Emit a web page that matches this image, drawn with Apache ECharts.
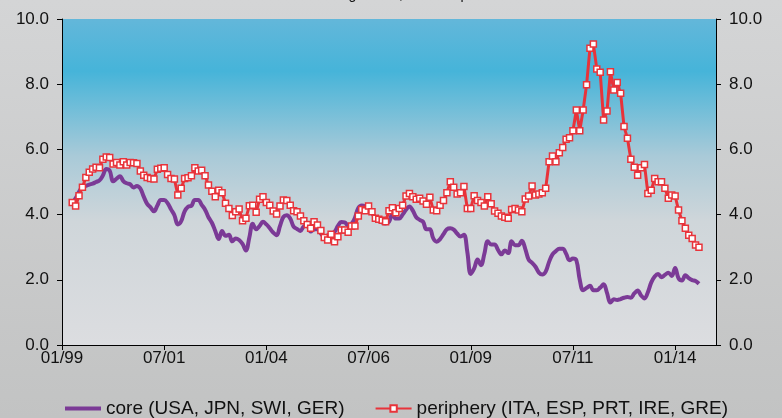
<!DOCTYPE html>
<html>
<head>
<meta charset="utf-8">
<script src="https://cdn.jsdelivr.net/npm/echarts@6/dist/echarts.min.js"></script>
<style>
html,body{margin:0;padding:0;}
body{width:782px;height:418px;background:linear-gradient(to bottom,#d4d5d6,#c2c3c3);overflow:hidden;}
#chart{width:782px;height:418px;}
</style>
</head>
<body>
<div id="chart"></div>
<script>
// Monthly categories 01/99 .. 01/15
var categories = [];
for (var y = 1999; y <= 2015; y++) {
  for (var m = 1; m <= 12; m++) {
    if (y === 2015 && m > 1) break;
    categories.push((m < 10 ? '0' + m : '' + m) + '/' + String(y).slice(2));
  }
}
var yTickValues = [0, 2, 4, 6, 8, 10];

var core = [null, null, null,
  4.35,4.50,4.70,4.85,4.88,4.92,4.95,5.00,5.05,5.20,
  5.40,5.35,5.02,5.10,5.18,5.03,4.96,4.93,4.83,4.88,
  4.80,4.55,4.33,4.22,4.10,4.28,4.45,4.45,4.35,4.16,
  3.98,3.70,3.80,4.10,4.24,4.27,4.45,4.45,4.30,4.15,
  3.92,3.75,3.50,3.25,3.50,3.35,3.38,3.18,3.27,3.22,
  3.10,2.90,3.30,3.72,3.55,3.65,3.78,3.70,3.58,3.45,
  3.37,3.65,3.93,3.98,3.88,3.63,3.56,3.50,3.64,3.66,
  3.48,3.55,3.56,3.42,3.32,3.36,3.40,3.47,3.65,3.77,
  3.76,3.66,3.72,3.90,4.20,4.28,4.25,4.16,4.04,3.92,
  3.85,3.76,3.73,3.78,4.02,3.88,3.88,4.00,4.15,4.25,
  4.12,3.92,3.84,3.78,3.55,3.55,3.27,3.17,3.25,3.40,
  3.55,3.58,3.54,3.42,3.33,3.38,2.85,2.18,2.35,2.62,
  2.45,2.80,3.18,3.08,3.08,2.92,2.78,2.90,2.82,3.18,
  3.06,3.06,3.20,2.95,2.62,2.52,2.40,2.22,2.16,2.25,
  2.55,2.78,2.88,2.95,2.95,2.80,2.60,2.65,2.60,2.00,
  1.68,1.75,1.82,1.68,1.68,1.76,1.86,1.60,1.30,1.40,
  1.38,1.41,1.45,1.47,1.45,1.58,1.67,1.52,1.43,1.62,
  1.92,2.10,2.18,2.08,2.15,2.22,2.12,2.36,2.05,1.98,
  2.14,2.05,1.99,1.96,1.88];

var periphery = [null, null, null,
  4.37,4.26,4.58,4.84,5.14,5.30,5.40,5.45,5.44,5.70,
  5.77,5.75,5.55,5.60,5.52,5.62,5.52,5.60,5.59,5.57,
  5.34,5.21,5.14,5.11,5.09,5.39,5.42,5.44,5.23,5.11,
  5.09,4.60,4.81,5.11,5.13,5.19,5.44,5.34,5.36,5.19,
  4.91,4.72,4.55,4.75,4.67,4.35,4.19,3.97,4.09,4.17,
  3.81,3.89,4.27,4.29,4.07,4.47,4.55,4.37,4.29,4.11,
  4.02,4.26,4.45,4.43,4.29,4.12,4.09,3.96,3.81,3.70,
  3.58,3.78,3.68,3.51,3.30,3.22,3.40,3.17,3.32,3.53,
  3.53,3.46,3.65,3.65,3.96,4.16,4.12,4.26,4.09,3.89,
  3.86,3.83,3.78,4.12,4.21,4.06,4.19,4.29,4.57,4.65,
  4.55,4.47,4.50,4.42,4.32,4.53,4.14,4.12,4.29,4.43,
  4.67,5.01,4.84,4.63,4.67,4.86,4.19,4.19,4.58,4.43,
  4.37,4.26,4.55,4.33,4.11,4.04,3.96,3.92,3.89,4.16,
  4.19,4.14,4.09,4.48,4.57,4.88,4.60,4.63,4.67,4.81,
  5.62,5.80,5.62,5.90,6.06,6.31,6.36,6.57,7.21,6.57,
  7.21,7.98,9.10,9.23,8.47,8.37,6.90,7.18,8.38,7.82,
  8.05,7.72,6.70,6.34,5.70,5.45,5.21,5.44,5.54,4.65,
  4.75,5.11,5.01,5.01,4.81,4.50,4.60,4.57,4.14,3.81,
  3.58,3.37,3.27,3.07,3.00];

var seriesNames = ['core (USA, JPN, SWI, GER)', 'periphery (ITA, ESP, PRT, IRE, GRE)'];
var titleText = 'Sovereign rates, mean in percent';

var FONT = "'Liberation Sans', Arial, sans-serif";
var chart = echarts.init(document.getElementById('chart'), null, {renderer: 'canvas'});

function yAxisDef(pos) {
  return {
    type: 'value', position: pos, min: 0, max: 10, interval: 2,
    axisLine: {show: true, lineStyle: {color: '#000', width: 1}},
    axisTick: {show: true, length: 5, lineStyle: {color: '#000'}},
    splitLine: {show: false},
    axisLabel: {
      margin: 13, color: '#111', fontSize: 17, fontFamily: FONT,
      formatter: function (v) { return yTickValues.indexOf(v) >= 0 ? v.toFixed(1) : ''; }
    }
  };
}

chart.setOption({
  animation: false,
  backgroundColor: 'transparent',
  graphic: [{
    type: 'text', left: 301, top: -12,
    style: {text: titleText, fill: '#111', font: "14px " + FONT}
  }],
  grid: {
    left: 62, right: 66, top: 19, bottom: 73, show: true, borderWidth: 0,
    backgroundColor: {
      type: 'linear', x: 0, y: 0, x2: 0, y2: 1,
      colorStops: [
        {offset: 0, color: '#63b7da'},
        {offset: 0.16, color: '#46b4d9'},
        {offset: 0.42, color: '#a9cad8'},
        {offset: 0.62, color: '#cfd6da'},
        {offset: 1, color: '#dcdde0'}
      ]
    }
  },
  legend: {
    left: 60, top: 394, itemGap: 30, itemWidth: 36, itemHeight: 8,
    textStyle: {color: '#111', fontSize: 19, fontFamily: FONT},
    data: [
      {name: seriesNames[0], icon: 'path://M0,0 L36,0 L36,4 L0,4 Z'},
      {name: seriesNames[1]}
    ]
  },
  xAxis: {
    type: 'category', boundaryGap: false, data: categories,
    axisLine: {show: true, lineStyle: {color: '#000', width: 1}},
    axisTick: {show: true, interval: 29, length: 5, lineStyle: {color: '#000'}},
    axisLabel: {interval: 29, margin: 5, color: '#111', fontSize: 17, fontFamily: FONT},
    splitLine: {show: false}
  },
  yAxis: [yAxisDef('left'), yAxisDef('right')],
  series: [
    {
      name: seriesNames[0], type: 'line', data: core, smooth: 0.4,
      showSymbol: false, symbol: 'none',
      lineStyle: {color: '#7b3a96', width: 4},
      itemStyle: {color: '#7b3a96'},
      z: 2
    },
    {
      name: seriesNames[1], type: 'line', data: periphery,
      symbol: 'rect', symbolSize: 6, showAllSymbol: true,
      lineStyle: {color: '#e8333a', width: 3},
      itemStyle: {color: '#ffffff', borderColor: '#e8333a', borderWidth: 1.5},
      z: 3
    }
  ]
});
</script>
</body>
</html>
